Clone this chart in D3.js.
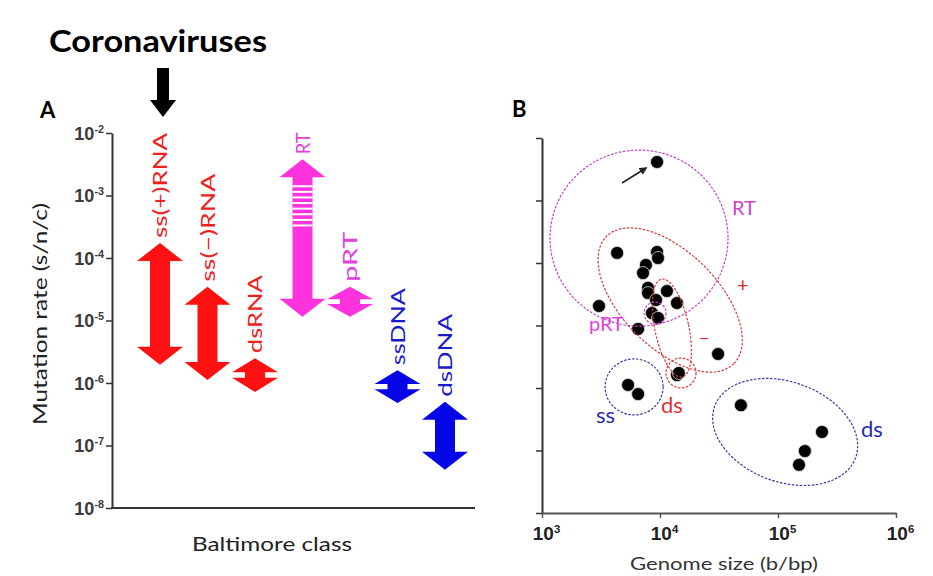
<!DOCTYPE html>
<html>
<head>
<meta charset="utf-8">
<script src="https://cdn.jsdelivr.net/npm/d3@7"></script>
<style>
  body { margin: 0; background: #fff; }
  svg { display: block; font-family: Lato, "Open Sans", sans-serif; }
</style>
</head>
<body>
<svg id="chart" width="933" height="576"></svg>
<script>
// Panel A: mutation rate ranges per Baltimore class
var classes = ["ss(+)RNA", "ss(\u2212)RNA", "dsRNA", "RT", "pRT", "ssDNA", "dsDNA"];
var rateHigh = [1.74e-4, 3.47e-5, 2.5e-6, 3.8e-3, 3.47e-5, 1.6e-6, 5.0e-7];
var rateLow = [1.95e-6, 1.12e-6, 7.2e-7, 1.15e-5, 1.15e-5, 4.8e-7, 4.1e-8];
var classGroup = ["red", "red", "red", "magenta", "magenta", "blue", "blue"];

// Panel B: genome size vs mutation rate
var genomeSize = [9440, 4330, 9440, 9620, 7600, 7180, 7910, 7910, 11450, 9250, 13930, 3040,
                  8550, 9620, 6520, 31050, 13930, 14450, 5360, 6520, 48500, 236000, 169000, 150700];
var mutationRate = [4.13e-3, 1.45e-4, 1.5e-4, 1.2e-4, 9.3e-5, 6.9e-5, 4.0e-5, 3.3e-5, 3.56e-5, 2.56e-5,
                    2.29e-5, 2.05e-5, 1.58e-5, 1.32e-5, 8.8e-6, 3.5e-6, 1.61e-6, 1.74e-6, 1.12e-6,
                    8.0e-7, 5.3e-7, 1.98e-7, 9.8e-8, 5.9e-8];

var rateTicks = [1e-2, 1e-3, 1e-4, 1e-5, 1e-6, 1e-7, 1e-8];
var sizeTicks = [1e3, 1e4, 1e5, 1e6];

var fills = {red: "#ff1111", magenta: "#ff33dd", blue: "#0505e6"};
var labelCols = {red: "#f02020", magenta: "#e040e0", blue: "#1a1acc"};

var svg = d3.select("#chart");

function expLabel(sel, base, exp, size) {
    sel.text(null).style("font-size", size + "px");
    sel.append("tspan").text(base);
    sel.append("tspan").text(exp).style("font-size", (size * 0.6) + "px").attr("dy", -size * 0.38);
}

// ---------------- Panel A ----------------
var yA = d3.scaleLog().domain([1e-8, 1e-2]).range([508, 133]);
var xA = d3.scalePoint().domain(classes).range([160, 445]);

var gA = svg.append("g");

gA.append("g")
    .attr("transform", "translate(112,0)")
    .call(d3.axisLeft(yA).tickValues(rateTicks).tickSize(6).tickSizeOuter(0))
    .call(function(g) {
        g.select(".domain").attr("stroke", "#333").attr("stroke-width", 2);
        g.selectAll(".tick line").attr("stroke", "#333").attr("stroke-width", 1.5);
        g.selectAll(".tick text")
            .attr("fill", "#3a3a3a").attr("x", -8).attr("dy", "0.35em")
            .attr("font-family", "Liberation Sans, Arial, sans-serif")
            .attr("font-weight", "bold")
            .each(function(d) {
                expLabel(d3.select(this), "10", String(Math.round(Math.log10(d))), 18);
            });
    });

// x-axis line (no ticks)
gA.append("line")
    .attr("x1", 111).attr("x2", 475)
    .attr("y1", yA(1e-8)).attr("y2", yA(1e-8))
    .attr("stroke", "#333").attr("stroke-width", 2);

function doubleArrow(cx, yt, yb, W, S) {
    var len = yb - yt;
    var H = Math.min(18, len * 0.42);
    var pts = [
        [cx, yt], [cx + W / 2, yt + H], [cx + S / 2, yt + H], [cx + S / 2, yb - H],
        [cx + W / 2, yb - H], [cx, yb], [cx - W / 2, yb - H], [cx - S / 2, yb - H],
        [cx - S / 2, yt + H], [cx - W / 2, yt + H]
    ];
    return "M" + pts.map(function(p) { return p[0] + "," + p[1]; }).join("L") + "Z";
}

var labelLen = [105, 108, 78, 22, 50, 77, 83];

classes.forEach(function(c, i) {
    var cx = xA(c);
    var yt = yA(rateHigh[i]), yb = yA(rateLow[i]);
    gA.append("path")
        .attr("d", doubleArrow(cx, yt, yb, 46, 20))
        .attr("fill", fills[classGroup[i]]);
    if (c === "RT") {
        // white stripes on upper shaft
        for (var k = 0; k < 8; k++) {
            gA.append("rect")
                .attr("x", cx - 10).attr("width", 20)
                .attr("y", yt + 26 + k * 5.6).attr("height", 2)
                .attr("fill", "#fff");
        }
    }
    gA.append("text")
        .attr("transform", "translate(" + (cx + 7) + "," + (yt - 5) + ") rotate(-90)")
        .attr("font-size", 19)
        .attr("fill", labelCols[classGroup[i]])
        .attr("textLength", labelLen[i])
        .attr("lengthAdjust", "spacingAndGlyphs")
        .text(c);
});

// Coronaviruses pointer
var cvx = xA(classes[0]) + 3;
gA.append("path")
    .attr("d", "M" + (cvx - 6) + ",68L" + (cvx + 6) + ",68L" + (cvx + 6) + ",100L" + (cvx + 13) + ",100L" +
        cvx + ",117L" + (cvx - 13) + ",100L" + (cvx - 6) + ",100Z")
    .attr("fill", "#000");

svg.append("text").attr("x", 49).attr("y", 52)
    .attr("font-size", 30).attr("font-weight", "bold")
    .attr("textLength", 218).attr("lengthAdjust", "spacingAndGlyphs")
    .text("Coronaviruses");

svg.append("text").attr("x", 40).attr("y", 118)
    .attr("font-size", 22).attr("font-weight", "bold").text("A");

svg.append("text")
    .attr("transform", "translate(47,314) rotate(-90)")
    .attr("text-anchor", "middle").attr("font-size", 19).attr("fill", "#222")
    .attr("textLength", 222).attr("lengthAdjust", "spacingAndGlyphs")
    .text("Mutation rate (s/n/c)");

svg.append("text").attr("x", 272).attr("y", 551)
    .attr("text-anchor", "middle").attr("font-size", 19).attr("fill", "#222")
    .attr("textLength", 160).attr("lengthAdjust", "spacingAndGlyphs")
    .text("Baltimore class");

// ---------------- Panel B ----------------
var xB = d3.scaleLog().domain([1e3, 1e6]).range([542, 896]);
var yB = d3.scaleLog().domain([1e-8, 1e-2]).range([513, 138]);

var gB = svg.append("g");

gB.append("g")
    .attr("transform", "translate(542,0)")
    .call(d3.axisLeft(yB).tickValues(rateTicks).tickSize(6).tickSizeOuter(0).tickFormat(""))
    .call(function(g) {
        g.select(".domain").attr("stroke", "#333").attr("stroke-width", 2);
        g.selectAll(".tick line").attr("stroke", "#333").attr("stroke-width", 1.5);
    });

gB.append("g")
    .attr("transform", "translate(0,513)")
    .call(d3.axisBottom(xB).tickValues(sizeTicks).tickSize(5).tickSizeOuter(0))
    .call(function(g) {
        g.select(".domain").attr("stroke", "#555").attr("stroke-width", 2);
        g.selectAll(".tick line").attr("stroke", "#555").attr("stroke-width", 1.5);
        g.selectAll(".tick text")
            .attr("fill", "#222").attr("x", 4).attr("y", 14).attr("dy", "0.71em")
            .attr("font-family", "Liberation Sans, Arial, sans-serif")
            .attr("font-weight", "bold")
            .each(function(d) {
                expLabel(d3.select(this), "10", String(Math.round(Math.log10(d))), 19);
            });
    });

svg.append("text").attr("x", 512).attr("y", 117)
    .attr("font-size", 22).attr("font-weight", "bold").text("B");

svg.append("text").attr("x", 724).attr("y", 570)
    .attr("text-anchor", "middle").attr("font-size", 18).attr("fill", "#333")
    .attr("textLength", 188).attr("lengthAdjust", "spacingAndGlyphs")
    .text("Genome size (b/bp)");

// points
gB.selectAll(".pt")
    .data(genomeSize.map(function(g, i) { return {g: g, r: mutationRate[i]}; }))
    .enter().append("circle")
    .attr("class", "pt")
    .attr("cx", function(d) { return xB(d.g); })
    .attr("cy", function(d) { return yB(d.r); })
    .attr("r", 6.5)
    .attr("fill", "#000")
    .attr("stroke", "#ddd").attr("stroke-width", 0.8);

// group outlines (centres in data units, radii in px)
var outlines = [
    {g: 6640, r: 2.5e-4, rx: 89, ry: 88, rot: 0, col: "#c840c8"},
    {g: 12200, r: 2.56e-5, rx: 90, ry: 48, rot: 45, col: "#d83a3a"},
    {g: 12600, r: 9.1e-6, rx: 17, ry: 50, rot: -12, col: "#d83a3a"},
    {g: 15070, r: 1.74e-6, rx: 15, ry: 15, rot: 0, col: "#d83a3a"},
    {g: 9080, r: 1.58e-5, rx: 11, ry: 11, rot: 0, col: "#c840c8"},
    {g: 6030, r: 1.04e-6, rx: 29, ry: 28, rot: 0, col: "#3a3aa8"},
    {g: 115000, r: 1.98e-7, rx: 75, ry: 50, rot: 20, col: "#3a3aa8"}
];
outlines.forEach(function(o) {
    gB.append("ellipse")
        .attr("transform", "translate(" + xB(o.g) + "," + yB(o.r) + ") rotate(" + o.rot + ")")
        .attr("rx", o.rx).attr("ry", o.ry)
        .attr("fill", "none").attr("stroke", o.col)
        .attr("stroke-width", 1.2).attr("stroke-dasharray", "2.5,1.5");
});

// arrow to the top point
var p0x = xB(genomeSize[0]), p0y = yB(mutationRate[0]);
svg.append("defs").append("marker")
    .attr("id", "ah").attr("viewBox", "0 0 10 10").attr("refX", 8).attr("refY", 5)
    .attr("markerWidth", 5).attr("markerHeight", 5).attr("orient", "auto")
    .append("path").attr("d", "M0,0L10,5L0,10Z").attr("fill", "#222");
gB.append("line")
    .attr("x1", p0x - 35).attr("y1", p0y + 21)
    .attr("x2", p0x - 11).attr("y2", p0y + 6)
    .attr("stroke", "#222").attr("stroke-width", 1.6)
    .attr("marker-end", "url(#ah)");

var bLabels = [
    {t: "RT", x: 732, y: 215, col: "#cc44cc", s: 20},
    {t: "+", x: 737, y: 292, col: "#d83030", s: 20},
    {t: "pRT", x: 589, y: 331, col: "#dd44dd", s: 20},
    {t: "\u2212", x: 699, y: 344, col: "#d83030", s: 18},
    {t: "ds", x: 661, y: 413, col: "#e03030", s: 22},
    {t: "ss", x: 596, y: 423, col: "#2a2ab0", s: 22},
    {t: "ds", x: 861, y: 437, col: "#2a2ab0", s: 22}
];
bLabels.forEach(function(l) {
    gB.append("text").attr("x", l.x).attr("y", l.y)
        .attr("font-size", l.s).attr("fill", l.col).text(l.t);
});
</script>
</body>
</html>
